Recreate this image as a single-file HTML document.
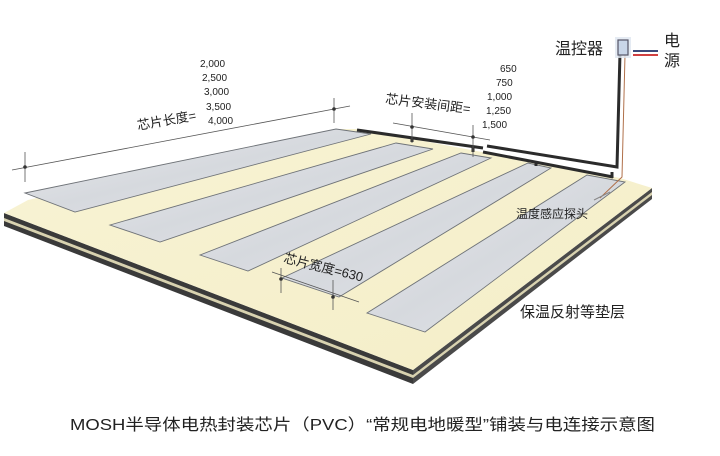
<!DOCTYPE html>
<html><head><meta charset="utf-8"><style>
html,body{margin:0;padding:0;background:#fff;width:720px;height:456px;overflow:hidden}
svg{display:block}
text{font-family:"Liberation Sans","Noto Sans CJK SC",sans-serif;fill:#222}
</style></head><body>
<svg width="720" height="456" viewBox="0 0 720 456" xmlns="http://www.w3.org/2000/svg">
<defs>
<linearGradient id="sg" x1="0" y1="0" x2="1" y2="1">
<stop offset="0" stop-color="#e9ebee"/><stop offset="0.5" stop-color="#d6d9de"/><stop offset="1" stop-color="#e4e6ea"/>
</linearGradient>
<linearGradient id="bg" x1="0" y1="0" x2="1" y2="1">
<stop offset="0" stop-color="#f8f3d4"/><stop offset="1" stop-color="#f4eec8"/>
</linearGradient>
</defs>
<polygon points="4,213 413,370 413,384 4,226" fill="#3a3a3a"/>
<polygon points="4,218 413,375 413,378 4,221" fill="#d8d2b0"/>
<polygon points="652,188 652,199 413,384 413,370" fill="#4a4a4a"/>
<polygon points="652,192 413,375 413,378 652,195" fill="#d8d2b0"/>
<polygon points="4,213 28,200 336,129 360,129 620,178 652,188 413,370" fill="url(#bg)"/>
<g stroke="#6f7378" stroke-width="0.9" fill="url(#sg)">
<polygon points="25,193 336,129 371,134 75,212"/>
<polygon points="110,225 396,143 433,149 160,242"/>
<polygon points="200,255 461,153 491,158 248,271"/>
<polygon points="282,278 528,163 551,168 339,297"/>
<polygon points="367,313 587,175 625,182 425,332"/>
</g>
<g stroke="#2b2b2b" stroke-width="3" fill="none" stroke-linejoin="miter">
<polyline points="357,130 483,148"/>
<polyline points="487,146 617,167 620,53"/>
<polyline points="483,152 613,177"/>
<line x1="412" y1="137" x2="412" y2="142"/>
<line x1="473" y1="147" x2="473" y2="152"/>
<line x1="536" y1="161" x2="536" y2="166"/>
<line x1="612" y1="172" x2="612" y2="178"/>
</g>
<polyline points="625,55 622,177 600,198" stroke="#b0704a" stroke-width="1" fill="none"/>
<line x1="594" y1="200" x2="610" y2="192" stroke="#888" stroke-width="1"/>
<rect x="615" y="37" width="16" height="21" fill="#dfe6f0" opacity="0.8"/>
<rect x="618" y="40" width="10" height="15" fill="#c9d6e8" stroke="#556" stroke-width="1.2"/>
<line x1="633" y1="51" x2="658" y2="51" stroke="#3b4a7a" stroke-width="2"/>
<line x1="633" y1="55" x2="658" y2="55" stroke="#d04040" stroke-width="2"/>
<text x="555" y="54" font-size="16">温控器</text>
<text x="664" y="46" font-size="16">电</text>
<text x="664" y="66" font-size="16">源</text>
<g stroke="#555" stroke-width="0.8">
<line x1="12" y1="170" x2="350" y2="106"/>
<line x1="25" y1="152" x2="25" y2="182"/>
<line x1="334" y1="98" x2="334" y2="123"/>
<line x1="393" y1="123" x2="490" y2="140"/>
<line x1="412" y1="113" x2="412" y2="143"/>
<line x1="473" y1="125" x2="473" y2="157"/>
<line x1="272" y1="272" x2="359" y2="302"/>
<line x1="281" y1="268" x2="281" y2="293"/>
<line x1="333" y1="280" x2="333" y2="310"/>
</g>
<g fill="#333"><circle cx="25" cy="167" r="1.8"/><circle cx="334" cy="109" r="1.8"/><circle cx="412" cy="127" r="1.8"/><circle cx="473" cy="137" r="1.8"/><circle cx="281" cy="279" r="1.8"/><circle cx="333" cy="297" r="1.8"/></g>
<g font-size="10">
<text x="200" y="67">2,000</text><text x="202" y="81">2,500</text><text x="204" y="95">3,000</text><text x="206" y="110">3,500</text><text x="208" y="124">4,000</text>
<text x="500" y="72">650</text><text x="496" y="86">750</text><text x="487" y="100">1,000</text><text x="486" y="114">1,250</text><text x="482" y="128">1,500</text>
</g>
<text x="0" y="0" font-size="13" transform="translate(138,130) rotate(-10)">芯片长度=</text>
<text x="0" y="0" font-size="13" transform="translate(385,103) rotate(7)">芯片安装间距=</text>
<text x="0" y="0" font-size="13" transform="translate(283,262) rotate(14)">芯片宽度=630</text>
<text x="516" y="218" font-size="12">温度感应探头</text>
<text x="520" y="317" font-size="15">保温反射等垫层</text>
<text x="70" y="430" font-size="16" textLength="585" lengthAdjust="spacingAndGlyphs">MOSH半导体电热封装芯片（PVC）“常规电地暖型”铺装与电连接示意图</text>
</svg>
</body></html>
